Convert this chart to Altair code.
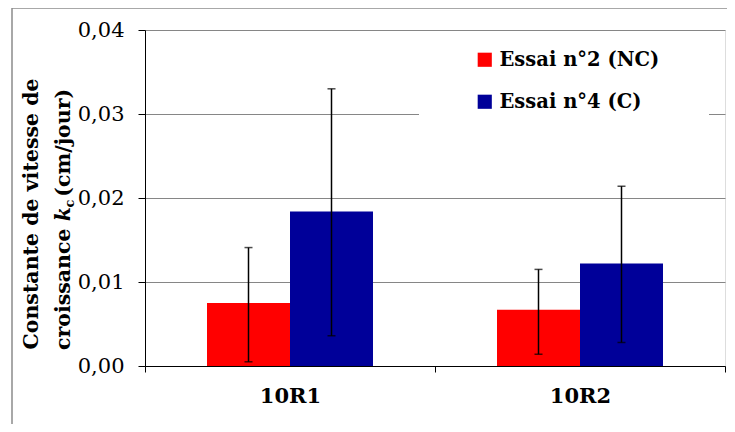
import altair as alt
import pandas as pd

categories = ["10R1", "10R2"]
series = ["Essai n°2 (NC)", "Essai n°4 (C)"]
means_nc = [0.0075, 0.0067]
means_c = [0.0184, 0.0122]
low_nc = [0.0005, 0.0014]
high_nc = [0.0141, 0.0115]
low_c = [0.0036, 0.0028]
high_c = [0.0330, 0.0214]
colors = ["#FF0000", "#000099"]

rows = []
for i, cat in enumerate(categories):
    rows.append({"cat": cat, "serie": series[0], "val": means_nc[i], "lo": low_nc[i], "hi": high_nc[i]})
    rows.append({"cat": cat, "serie": series[1], "val": means_c[i], "lo": low_c[i], "hi": high_c[i]})
df = pd.DataFrame(rows)
caps = pd.concat([
    df[["cat", "serie"]].assign(cap=df["lo"]),
    df[["cat", "serie"]].assign(cap=df["hi"]),
])
one = pd.DataFrame({"a": [0]})

FONT = "DejaVu Serif"

xscale = alt.Scale(paddingInner=0, paddingOuter=0)
xenc = alt.X("cat:N", sort=categories, scale=xscale,
             axis=alt.Axis(title=None, labelAngle=0, tickBand="extent", tickSize=6,
                           labelFont=FONT, labelFontSize=21, labelFontWeight="bold",
                           labelColor="black", labelPadding=13, domainColor="black",
                           tickColor="black", grid=False))
xoff = alt.XOffset("serie:N", sort=series, scale=alt.Scale(paddingInner=0, paddingOuter=0.747))
yscale = alt.Scale(domain=[0, 0.04], nice=False)

bars = alt.Chart(df).mark_bar(stroke=None).encode(
    x=xenc,
    xOffset=xoff,
    y=alt.Y("val:Q", scale=yscale,
            axis=alt.Axis(title=None, values=[0, 0.01, 0.02, 0.03, 0.04],
                          labelExpr="replace(format(datum.value, '.2f'), '.', ',')",
                          labelFont=FONT, labelFontSize=21, labelColor="black",
                          labelPadding=14, tickSize=7, tickColor="black",
                          domainColor="black", gridColor="#868686", gridWidth=1)),
    color=alt.Color("serie:N", sort=series,
                    scale=alt.Scale(domain=series, range=colors),
                    legend=alt.Legend(title=None, orient="none", legendX=330, legendY=20,
                                      symbolType="square", symbolSize=200,
                                      symbolStrokeWidth=0, labelFont=FONT,
                                      labelFontSize=19.5, labelFontWeight="bold",
                                      labelColor="black", labelOffset=5, labelLimit=400,
                                      rowPadding=21, padding=0)),
)

legbox = alt.Chart(one).mark_rect(fill="white").encode(
    x=alt.value(274), x2=alt.value(564), y=alt.value(4), y2=alt.value(100))

err = alt.Chart(df).mark_rule(color="black", strokeWidth=1.5).encode(
    x=alt.X("cat:N", sort=categories, scale=xscale), xOffset=xoff,
    y=alt.Y("lo:Q", scale=yscale), y2="hi:Q")

capm = alt.Chart(caps).mark_tick(color="black", thickness=1.5, size=8, orient="horizontal").encode(
    x=alt.X("cat:N", sort=categories, scale=xscale), xOffset=xoff,
    y=alt.Y("cap:Q", scale=yscale))

border = alt.Chart(one).mark_rect(fill=None, stroke="#8c8c8c", strokeWidth=1.5).encode(
    x=alt.value(-133), x2=alt.value(900), y=alt.value(-22), y2=alt.value(600))

TS = 20.5
tstyle = dict(font=FONT, fontSize=TS, fontWeight="bold", angle=270, baseline="alphabetic", color="black")
line1 = alt.Chart(one).mark_text(align="center", text="Constante de vitesse de", **tstyle).encode(
    x=alt.value(-107), y=alt.value(184))
y0 = 320
w1 = 6.277 * TS
w2 = 0.68 * TS
w3 = 0.593 * 13 + 3
p1 = alt.Chart(one).mark_text(align="left", text="croissance ", **tstyle).encode(
    x=alt.value(-75), y=alt.value(y0))
p2 = alt.Chart(one).mark_text(align="left", text="k", fontStyle="italic", **tstyle).encode(
    x=alt.value(-75), y=alt.value(y0 - w1))
sub = dict(tstyle)
sub["fontSize"] = 13
p3 = alt.Chart(one).mark_text(align="left", text="c", **sub).encode(
    x=alt.value(-71), y=alt.value(y0 - w1 - w2))
p4 = alt.Chart(one).mark_text(align="left", text=" (cm/jour)", **tstyle).encode(
    x=alt.value(-75), y=alt.value(y0 - w1 - w2 - w3))

chart = alt.layer(border, bars, legbox, err, capm, line1, p1, p2, p3, p4).properties(
    width=580, height=336,
    autosize=alt.AutoSizeParams(type="none"),
    padding={"left": 137, "top": 22, "right": 2, "bottom": 58},
).configure_view(stroke="black", strokeWidth=1).configure(background="white")

chart.save("out.html", embed_options={"renderer": "svg", "actions": False})
